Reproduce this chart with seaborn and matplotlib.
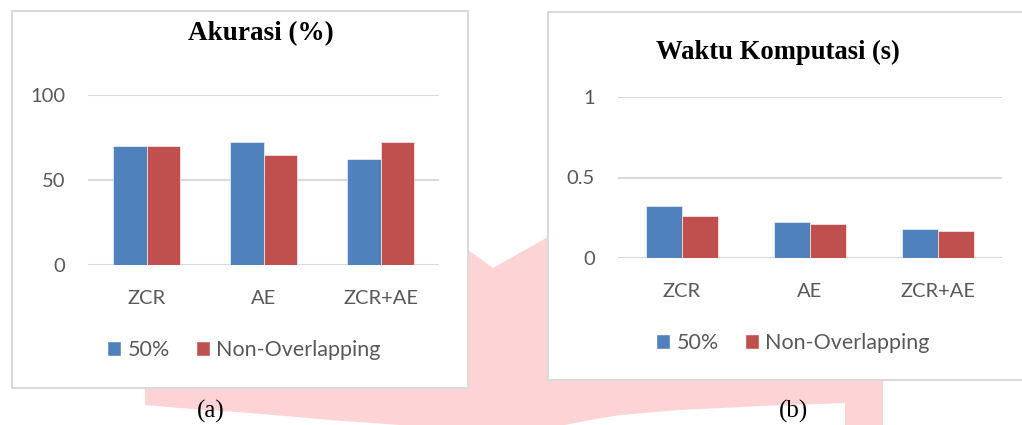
import matplotlib
matplotlib.use('Agg')
import matplotlib.pyplot as plt
from matplotlib.patches import Patch, Rectangle, Polygon
import seaborn as sns
import pandas as pd

# data
metode = ['ZCR', 'AE', 'ZCR+AE']
skema = ['50%', 'Non-Overlapping']
akurasi_50 = [70.0, 72.5, 62.5]
akurasi_nonov = [70.0, 65.0, 72.5]
waktu_50 = [0.323, 0.224, 0.180]
waktu_nonov = [0.259, 0.209, 0.168]

BLUE = '#4F81BD'
RED = '#C0504D'
GRID = '#d9d9d9'
TXT = '#595959'
PINK = '#fdd3d5'

W, H = 1022, 425

sns.set_style('white')
plt.rcParams['font.family'] = ['Lato', 'DejaVu Sans']


def long_table(a, b):
    rows = []
    for m, v1, v2 in zip(metode, a, b):
        rows.append({'metode': m, 'skema': skema[0], 'nilai': v1})
        rows.append({'metode': m, 'skema': skema[1], 'nilai': v2})
    return pd.DataFrame(rows)


def px_axes(fig, x0, y0, x1, y1):
    return fig.add_axes([x0 / W, 1 - y1 / H, (x1 - x0) / W, (y1 - y0) / H])


fig = plt.figure(figsize=(W / 100, H / 100), dpi=100)

# background: pink watermark and the two chart frames
bg = fig.add_axes([0, 0, 1, 1], zorder=0)
bg.set_xlim(0, W)
bg.set_ylim(H, 0)
bg.axis('off')
pink = [(145, 388), (468, 388), (468, 250), (493, 268), (548, 237),
        (548, 380), (883, 380), (883, 425), (845, 425), (845, 403),
        (760, 406), (680, 410), (620, 415), (590, 420), (565, 425),
        (400, 425), (330, 420), (250, 413), (180, 408), (145, 405)]
bg.add_patch(Polygon(pink, closed=True, facecolor=PINK, edgecolor='none'))
bg.add_patch(Rectangle((12, 11), 456, 377, facecolor='white', edgecolor=GRID, lw=1.5))
bg.add_patch(Rectangle((548, 12), 490, 368, facecolor='white', edgecolor=GRID, lw=1.5))
bg.text(211, 411, '(a)', family='Liberation Serif', fontsize=18, ha='center', va='center', color='black')
bg.text(793, 411, '(b)', family='Liberation Serif', fontsize=18, ha='center', va='center', color='black')
bg.text(261, 34, 'Akurasi (%)', family='Liberation Serif', fontweight='bold', fontsize=19.5,
        ha='center', va='center', color='black')
bg.text(778, 52, 'Waktu Komputasi (s)', family='Liberation Serif', fontweight='bold', fontsize=19.2,
        ha='center', va='center', color='black')


def draw_chart(ax, a, b, ymax, ticks, ticklabels, leg_xy):
    df = long_table(a, b)
    sns.barplot(data=df, x='metode', y='nilai', hue='skema', palette=[BLUE, RED],
                width=0.57, ax=ax, legend=False, edgecolor='white', linewidth=0.4,
                saturation=1)
    ax.set_facecolor('none')
    ax.set_ylim(0, ymax)
    ax.set_xlim(-0.5, len(metode) - 0.5)
    ax.set_yticks(ticks)
    ax.set_yticklabels(ticklabels)
    ax.set_xlabel('')
    ax.set_ylabel('')
    for s in ax.spines.values():
        s.set_visible(False)
    ax.grid(axis='y', color=GRID, lw=1.5)
    ax.set_axisbelow(True)
    ax.tick_params(axis='y', length=0, pad=16.5, labelsize=14.5, labelcolor=TXT)
    ax.tick_params(axis='x', length=0, pad=18, labelsize=14.5, labelcolor=TXT)
    handles = [Patch(facecolor=BLUE, label=skema[0]), Patch(facecolor=RED, label=skema[1])]
    ax.legend(handles=handles, loc='center', ncol=2, frameon=False,
              bbox_to_anchor=(leg_xy[0] / W, 1 - leg_xy[1] / H),
              bbox_transform=fig.transFigure, fontsize=15.5, labelcolor=TXT,
              handlelength=0.65, handleheight=0.65, handletextpad=0.3,
              columnspacing=1.2, borderaxespad=0)


ax1 = px_axes(fig, 88, 95, 439, 265)
ax1.set_zorder(2)
draw_chart(ax1, akurasi_50, akurasi_nonov, 100, [0, 50, 100], ['0', '50', '100'], (244, 350))

ax2 = px_axes(fig, 618, 97, 1002, 258)
ax2.set_zorder(2)
draw_chart(ax2, waktu_50, waktu_nonov, 1, [0, 0.5, 1], ['0', '0.5', '1'], (793, 343))

fig.savefig('out.png', dpi=100)
